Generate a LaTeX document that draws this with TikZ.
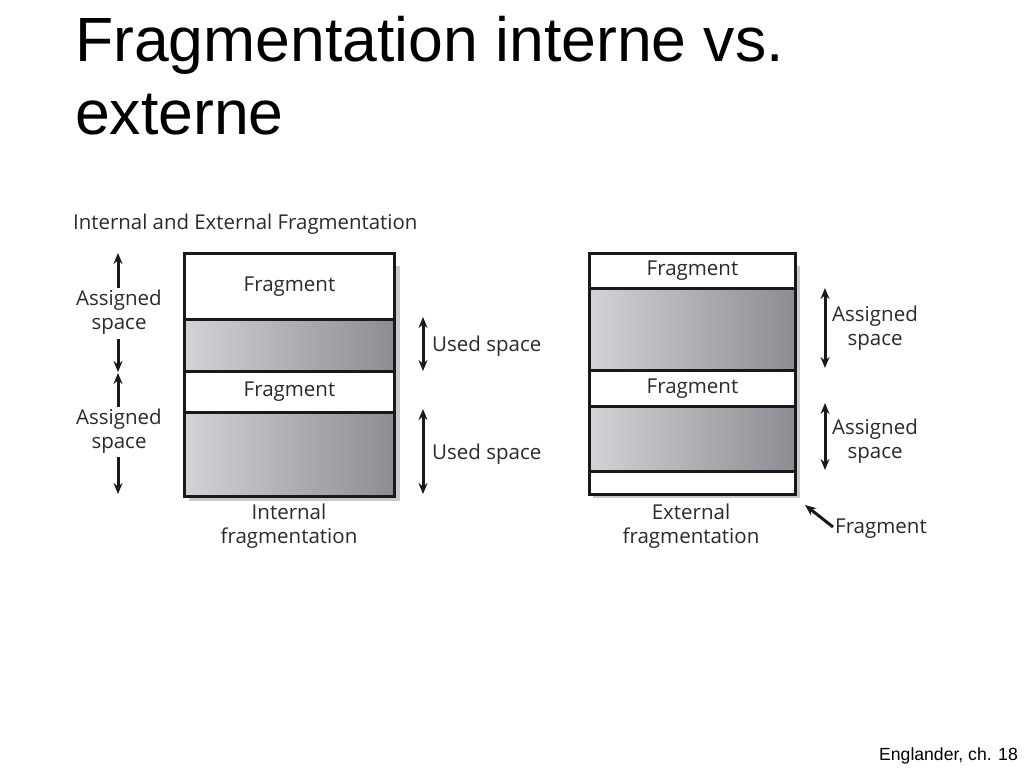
\documentclass[tikz,border=0pt]{standalone}
\usepackage{fontspec}
\setmainfont{Liberation Sans}
\newfontfamily\figfont{Open Sans}
\usetikzlibrary{arrows.meta}
\definecolor{gL}{HTML}{D2D3D5}
\definecolor{gR}{HTML}{8C8D92}
\definecolor{shad}{HTML}{C8C9CB}
\definecolor{ftext}{HTML}{2A2A2A}
\tikzset{
  seg/.style={draw=black!90, line width=3pt, anchor=north west, inner sep=0pt, font=\figfont\fontsize{20.5}{24}\selectfont, text=ftext},
  white seg/.style={seg, fill=white},
  grey seg/.style={seg, left color=gL, right color=gR},
  lbl/.style={font=\figfont\fontsize{20.5}{24}\selectfont, text=ftext, align=center, inner sep=1pt},
  arr/.style={line width=3pt, black!90, -{Stealth[length=11pt,width=9pt]}},
  darr/.style={line width=3pt, black!90, {Stealth[length=11pt,width=9pt]}-{Stealth[length=11pt,width=9pt]}},
  shadowbox/.style={fill=shad, draw=none}
}
\begin{document}
\begin{tikzpicture}[x=1pt,y=-1pt]
\useasboundingbox (0,0) rectangle (1024,768);
% titles
\node[anchor=base west, inner sep=0pt, font=\fontsize{62.5}{66}\selectfont] (T1) at (75,62) {Fragmentation interne vs.};
\node[anchor=base west, inner sep=0pt, font=\fontsize{62.5}{66}\selectfont] (T2) at (75,134) {externe};
\node[anchor=base east, inner sep=0pt, font=\fontsize{17.6}{20}\selectfont] (FT) at (1018,760) {Englander, ch. 18};
\node[anchor=base west, inner sep=0pt, font=\figfont\fontsize{20.4}{24}\selectfont, text=ftext] (ST) at (73,229) {Internal and External Fragmentation};
% left box shadow
\path[shadowbox] (189,266) rectangle (400,501);
\node[white seg, minimum width=210pt, minimum height=66pt] (L1) at (183,252) {Fragment};
\node[grey seg, minimum width=210pt, minimum height=52pt] (L2) at (183,318) {};
\node[white seg, minimum width=210pt, minimum height=41pt] (L3) at (183,370) {Fragment};
\node[grey seg, minimum width=210pt, minimum height=84pt] (L4) at (183,411) {};
\node[lbl] (IF) at (289,526) {Internal\\fragmentation};
% left assigned arrows
\node[lbl] (AS1) at (119,312) {Assigned\\space};
\node[lbl] (AS2) at (119,431) {Assigned\\space};
\coordinate (a1t) at (118,253);
\coordinate (a1b) at (118,372);
\coordinate (a2t) at (118,373);
\coordinate (a2b) at (118,494);
\draw[arr] (118,288) -- (a1t);
\draw[arr] (118,339) -- (a1b);
\draw[arr] (118,407) -- (a2t);
\draw[arr] (118,457) -- (a2b);
% used space
\coordinate (u1t) at (423,317);
\coordinate (u1b) at (423,371);
\coordinate (u2t) at (423,409);
\coordinate (u2b) at (423,494);
\draw[darr] (u1t) -- (u1b);
\draw[darr] (u2t) -- (u2b);
\node[lbl, anchor=west] (US1) at (431,346) {Used space};
\node[lbl, anchor=west] (US2) at (431,454) {Used space};
% right box
\path[shadowbox] (593,266) rectangle (800,498);
\node[white seg, minimum width=206pt, minimum height=35pt] (R1) at (588,252) {Fragment};
\node[grey seg, minimum width=206pt, minimum height=82pt] (R2) at (588,287) {};
\node[white seg, minimum width=206pt, minimum height=36pt] (R3) at (588,369) {Fragment};
\node[grey seg, minimum width=206pt, minimum height=65pt] (R4) at (588,405) {};
\node[white seg, minimum width=206pt, minimum height=23pt] (R5) at (588,470) {};
\node[lbl] (EF) at (691,526) {External\\fragmentation};
\coordinate (r1t) at (825,288);
\coordinate (r1b) at (825,368);
\coordinate (r2t) at (825,403);
\coordinate (r2b) at (825,470);
\draw[darr] (r1t) -- (r1b);
\draw[darr] (r2t) -- (r2b);
\node[lbl, anchor=west] (RA1) at (831,328) {Assigned\\space};
\node[lbl, anchor=west] (RA2) at (831,441) {Assigned\\space};
\node[lbl, anchor=west] (RF) at (834,529) {Fragment};
\coordinate (rfp) at (805,505);
\coordinate (rfs) at (833,527);
\draw[arr] (rfs) -- (rfp);
\end{tikzpicture}
\end{document}
